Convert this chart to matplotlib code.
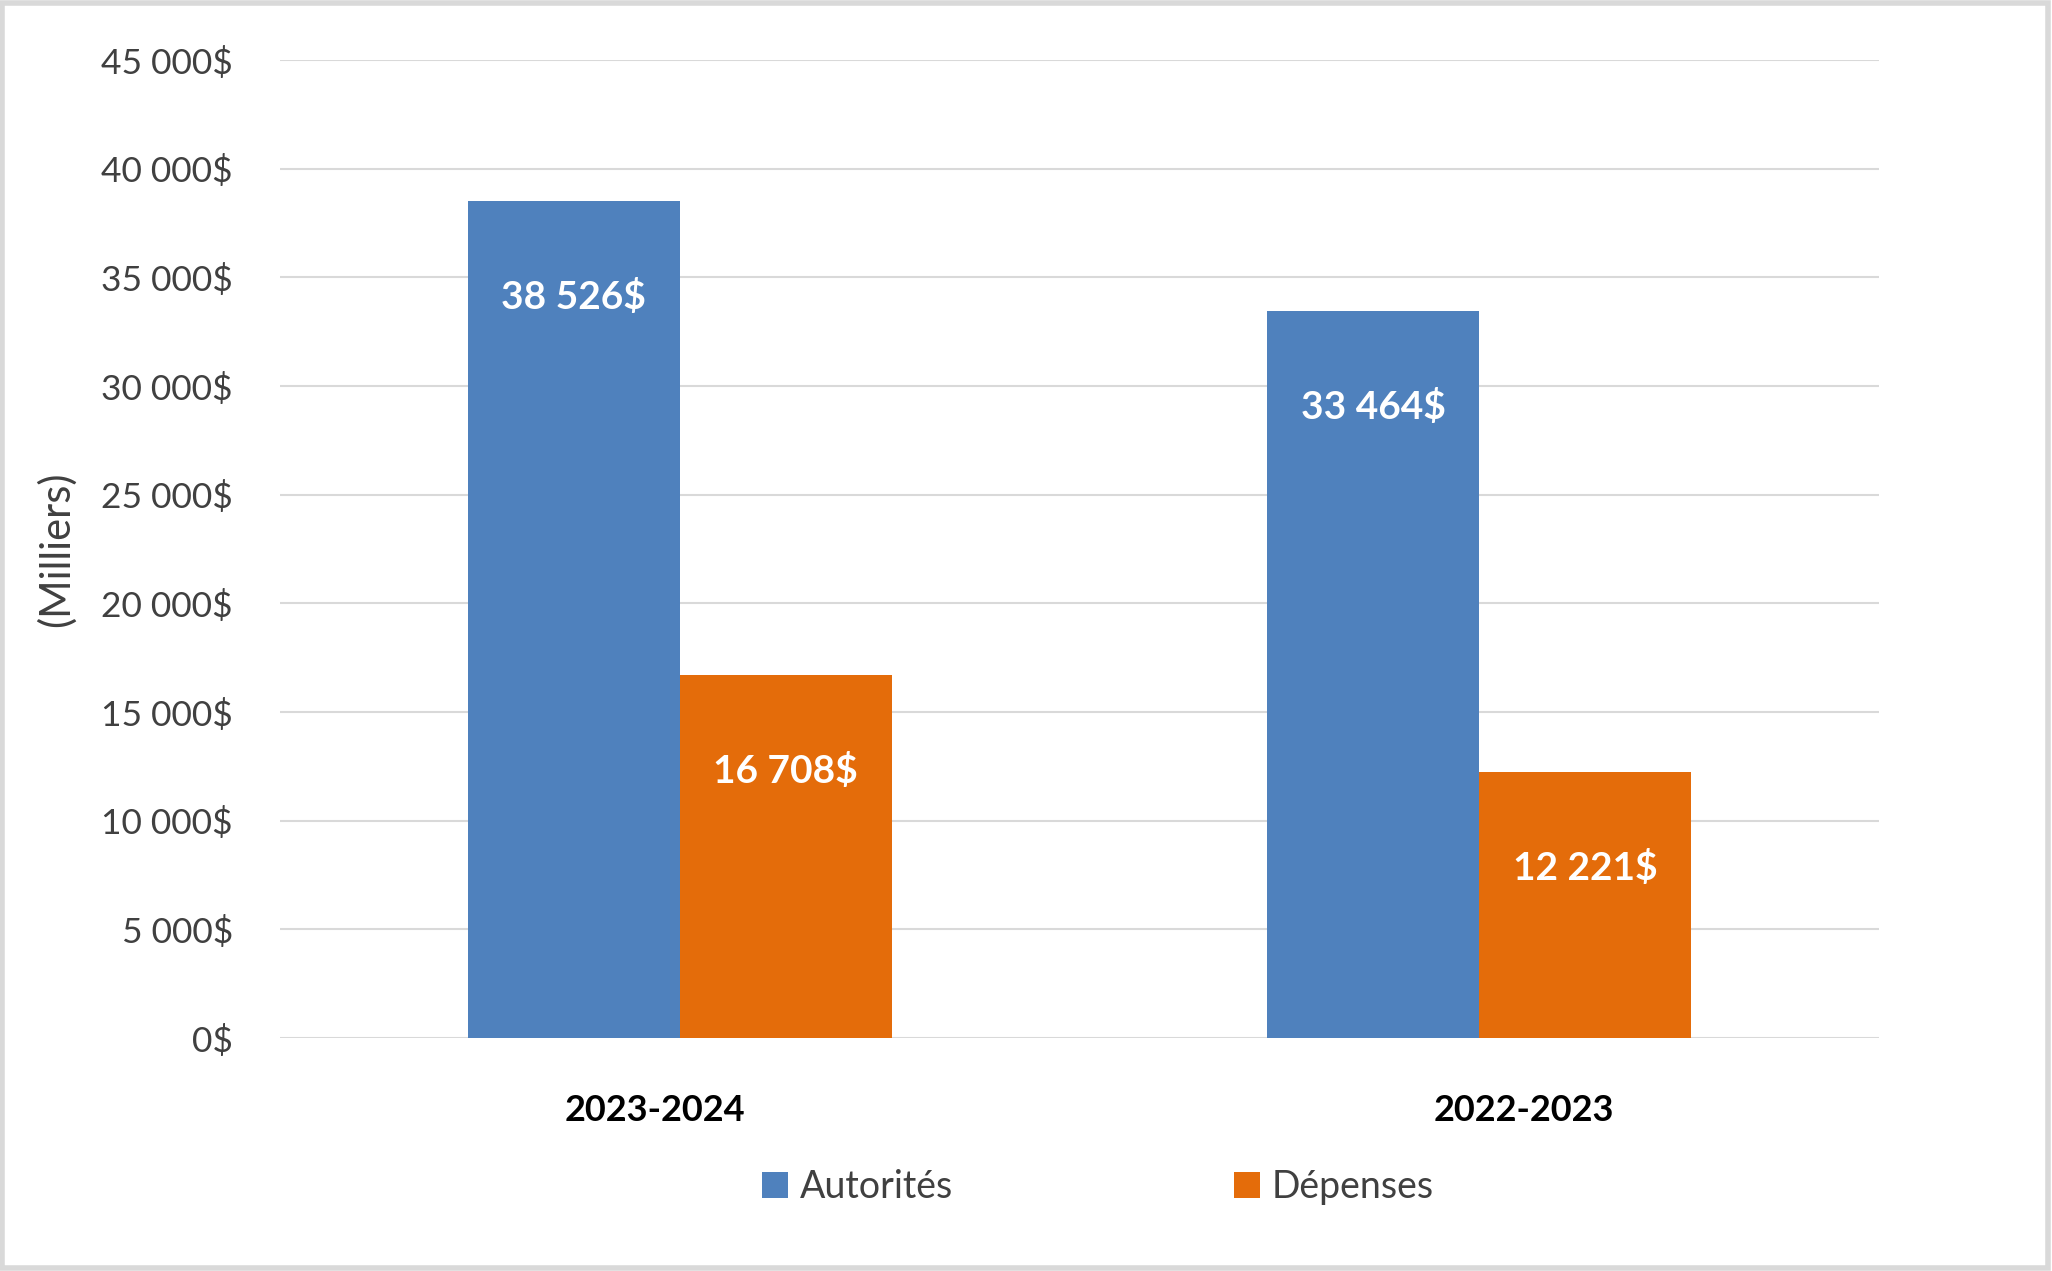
import matplotlib.pyplot as plt
import matplotlib.transforms as mtransforms
import numpy as np
from matplotlib.patches import Rectangle
from matplotlib.ticker import FuncFormatter, MultipleLocator

plt.rcParams["font.family"] = ["Lato", "DejaVu Sans"]

years = ["2023-2024", "2022-2023"]
autorites = [38526, 33464]
depenses = [16708, 12221]
series_names = ["Autorités", "Dépenses"]

BLUE = "#4F81BD"
ORANGE = "#E46C0A"
TEXT = "#404040"


def money(v):
    return f"{v:,.0f}".replace(",", " ") + "$"


def main():
    fig = plt.figure(figsize=(20.52, 12.71), dpi=100)
    ax = fig.add_axes([0.1365, 0.1833, 0.7792, 0.7694])

    x = np.arange(len(years))
    width = 0.265

    bars_a = ax.bar(x - width / 2, autorites, width, color=BLUE, label=series_names[0])
    bars_d = ax.bar(x + width / 2, depenses, width, color=ORANGE, label=series_names[1])

    for bars, vals in [(bars_a, autorites), (bars_d, depenses)]:
        for b, v in zip(bars, vals):
            ax.annotate(
                money(v),
                xy=(b.get_x() + b.get_width() / 2, v),
                xytext=(0, -69),
                textcoords="offset points",
                ha="center",
                va="center",
                color="white",
                fontsize=28,
                fontweight="bold",
            )

    ax.set_xlim(-0.5, 1.5)
    ax.set_ylim(0, 45000)
    ax.yaxis.set_major_locator(MultipleLocator(5000))
    ax.yaxis.set_major_formatter(FuncFormatter(lambda v, p: money(v)))
    ax.grid(axis="y", color="#d9d9d9", linewidth=1.5)
    ax.set_axisbelow(True)
    for s in ax.spines.values():
        s.set_visible(False)

    ax.set_xticks(x)
    ax.set_xticklabels(years, fontsize=26, fontweight="bold", color="black")
    ax.tick_params(axis="x", length=0, pad=40)
    ax.tick_params(axis="y", length=0, pad=34, labelsize=25.5, labelcolor=TEXT)

    # the year labels sit a little off the group centres in the original
    for lbl, dx in zip(ax.get_xticklabels(), [-25, 45]):
        lbl.set_transform(lbl.get_transform()
                          + mtransforms.ScaledTranslation(dx / 100, 0, fig.dpi_scale_trans))

    ax.set_ylabel("(Milliers)", fontsize=30, color=TEXT)
    ax.yaxis.set_label_coords(-0.128, 0.5)

    fig.legend(
        loc="center",
        bbox_to_anchor=(0.535, 0.066),
        ncol=2,
        frameon=False,
        fontsize=27,
        handlelength=0.7,
        handleheight=0.7,
        handletextpad=0.3,
        columnspacing=7.5,
        labelcolor=TEXT,
    )

    fig.patches.append(
        Rectangle((0.001, 0.002), 0.997, 0.996, transform=fig.transFigure,
                  fill=False, edgecolor="#d9d9d9", linewidth=4)
    )

    fig.savefig("out.png", dpi=100, facecolor="white")
    plt.close(fig)


if __name__ == "__main__":
    main()
